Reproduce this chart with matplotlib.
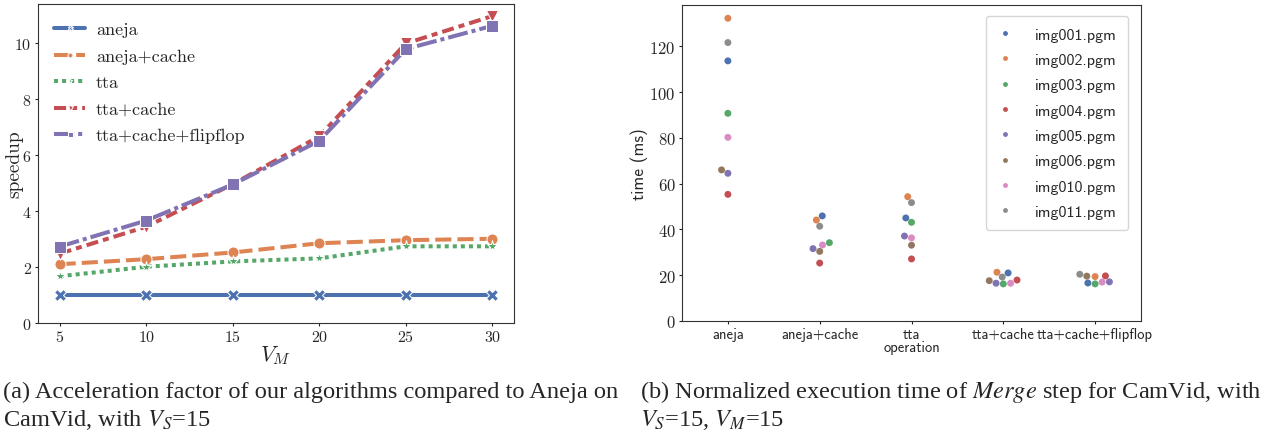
import matplotlib
matplotlib.use("Agg")
import matplotlib.pyplot as plt
import numpy as np
import pandas as pd
import seaborn as sns

# ---- left panel: speedup vs V_M ----
vm = [5, 10, 15, 20, 25, 30]
sp_aneja = [1.0, 1.0, 1.0, 1.0, 1.0, 1.0]
sp_aneja_cache = [2.10, 2.28, 2.52, 2.85, 2.96, 3.01]
sp_tta = [1.67, 2.01, 2.20, 2.31, 2.74, 2.74]
sp_tta_cache = [2.48, 3.44, 4.96, 6.67, 9.99, 10.97]
sp_tta_cache_ff = [2.73, 3.66, 4.95, 6.51, 9.79, 10.62]

# ---- right panel: time per image and operation ----
operations = ["aneja", "aneja+cache", "tta", "tta+cache", "tta+cache+flipflop"]
images = ["img001.pgm", "img002.pgm", "img003.pgm", "img004.pgm",
          "img005.pgm", "img006.pgm", "img010.pgm", "img011.pgm"]
t_img001 = [113.6, 45.9, 45.0, 21.0, 16.6]
t_img002 = [132.2, 44.1, 54.3, 21.3, 19.4]
t_img003 = [90.7, 34.2, 43.1, 16.2, 16.2]
t_img004 = [55.3, 25.3, 27.1, 17.9, 19.7]
t_img005 = [64.5, 31.6, 37.1, 16.5, 17.1]
t_img006 = [66.0, 30.4, 33.1, 17.6, 19.6]
t_img010 = [80.2, 33.2, 36.3, 16.5, 17.0]
t_img011 = [121.6, 41.4, 51.7, 19.2, 20.4]

sns.set_style("ticks")
plt.rcParams["axes.formatter.use_mathtext"] = True
pal = sns.color_palette("deep")

fig = plt.figure(figsize=(12.62, 4.31), dpi=100)
ax1 = fig.add_axes([38/1262, 1 - 324/431, 476/1262, 319/431])
ax2 = fig.add_axes([682/1262, 1 - 322/431, 459/1262, 316/431])

series = [
    ("aneja", sp_aneja, "", "X"),
    ("aneja+cache", sp_aneja_cache, (4, 1.5), "o"),
    ("tta", sp_tta, (1, 1), "*"),
    ("tta+cache", sp_tta_cache, (3, 1.25, 1.5, 1.25), "v"),
    ("tta+cache+flipflop", sp_tta_cache_ff, (5, 1, 1, 1), "s"),
]
for i, (name, vals, dash, mk) in enumerate(series):
    line, = ax1.plot(vm, vals, color=pal[i], lw=2.9, marker=mk, markersize=8,
                     markeredgecolor="white", markeredgewidth=0.75, label=name)
    if dash:
        line.set_dashes(dash)

ax1.set_xlim(3.75, 31.25)
ax1.set_ylim(0, 11.4)
ax1.set_xticks(vm)
ax1.set_yticks([0, 2, 4, 6, 8, 10])
for lab in ax1.get_xticklabels() + ax1.get_yticklabels():
    lab.set_family("cmr10")
    lab.set_fontsize(11.5)
ax1.tick_params(length=2.5, width=0.8, pad=2)
fig.text(14/1262, 1 - 164/431, "speedup", family="cmr10", fontsize=14,
         rotation=90, ha="center", va="center")
ax1.set_xlabel("$V_M$", fontsize=16, math_fontfamily="cm", labelpad=-1)
ax1.legend(loc="upper left", frameon=False, prop={"family": "cmr10", "size": 13},
           markerscale=0.45, handlelength=1.7, handletextpad=0.6, labelspacing=0.6,
           bbox_to_anchor=(0.0, 0.995))

# swarm
df = pd.DataFrame({
    "operation": operations * len(images),
    "time": t_img001 + t_img002 + t_img003 + t_img004 + t_img005 + t_img006
            + t_img010 + t_img011,
    "image": [im for im in images for _ in operations],
})
sns.swarmplot(data=df, x="operation", y="time", hue="image", order=operations,
              hue_order=images, palette="deep", size=5, ax=ax2)
ax2.set_ylim(0, 138)
ax2.set_xlim(-0.5, 4.5)
ax2.set_yticks([0, 20, 40, 60, 80, 100, 120])
for lab in ax2.get_yticklabels():
    lab.set_family("cmr10")
    lab.set_fontsize(12)
for lab in ax2.get_xticklabels():
    lab.set_family("cmss10")
    lab.set_fontsize(10.5)
ax2.tick_params(length=2.5, width=0.8, pad=2)
ax2.set_ylabel("time (ms)", family="cmss10", fontsize=12.5)
ax2.yaxis.set_label_coords(-0.075, 0.5)
ax2.set_xlabel("operation", family="cmss10", fontsize=10.5, labelpad=-1)
h, l = ax2.get_legend_handles_labels()
ax2.legend(h, l, loc="upper right", prop={"family": "cmss10", "size": 11.5},
           markerscale=0.7, labelspacing=0.7, handlelength=1.0, handletextpad=1.4,
           borderpad=0.7, bbox_to_anchor=(0.99, 0.99))

for ax in (ax1, ax2):
    for s in ax.spines.values():
        s.set_color("0.2")

# captions
cap_kw = dict(family="Liberation Serif", fontsize=17.6, math_fontfamily="stix",
              va="baseline", ha="left")
fig.text(3/1262, 1 - 398/431,
         "(a) Acceleration factor of our algorithms compared to Aneja on", **cap_kw)
fig.text(3/1262, 1 - 426/431, "CamVid, with $V_S$=15", **cap_kw)
fig.text(640/1262, 1 - 398/431,
         r"(b) Normalized execution time of $\mathit{Merge}$ step for CamVid, with",
         **cap_kw)
fig.text(640/1262, 1 - 426/431, "$V_S$=15, $V_M$=15", **cap_kw)

fig.savefig("out.png", dpi=100)
